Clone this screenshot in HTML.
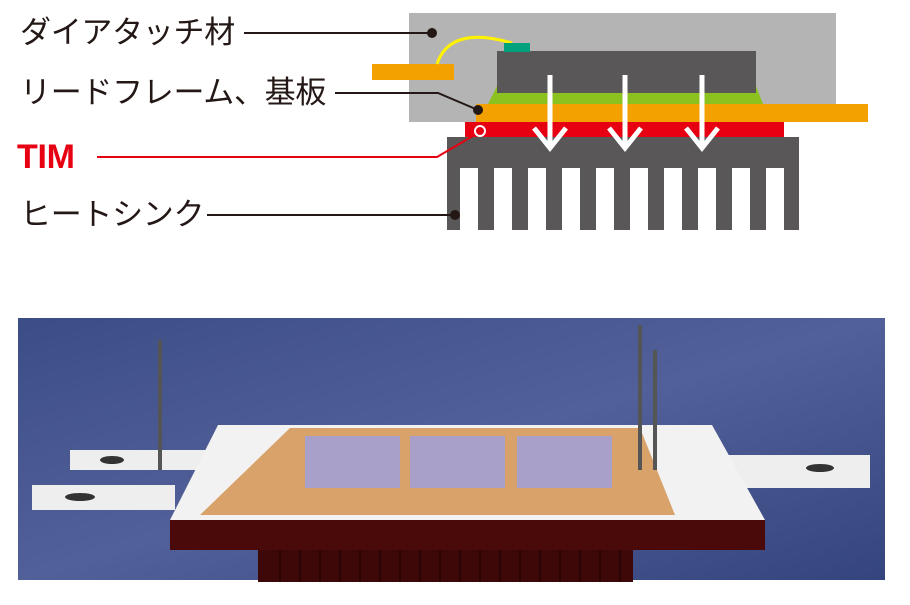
<!DOCTYPE html>
<html><head><meta charset="utf-8"><style>
body{margin:0;background:#fff;width:910px;height:605px;overflow:hidden;position:relative;font-family:"Liberation Sans","Noto Sans CJK JP",sans-serif}
.t{position:absolute;font-size:31px;line-height:32px;color:#231815;white-space:nowrap;letter-spacing:-0.3px}
</style></head><body>
<div class="t" style="left:20px;top:17px">ダイアタッチ材</div>
<div class="t" style="left:20px;top:77px">リードフレーム、基板</div>
<div class="t" style="left:17px;top:140px;color:#e60012;font-weight:bold;font-size:34px;line-height:34px">TIM</div>
<div class="t" style="left:20px;top:199px">ヒートシンク</div>
<svg width="910" height="605" style="position:absolute;left:0;top:0">
<defs>
<linearGradient id="bg" x1="0" y1="0" x2="1" y2="1"><stop offset="0" stop-color="#3c4d85"/><stop offset="0.5" stop-color="#52609a"/><stop offset="1" stop-color="#34447c"/></linearGradient>
</defs>
<rect x="409" y="13" width="427" height="109" fill="#b4b4b4"/>
<rect x="372" y="64" width="82" height="16" fill="#f3a100"/>
<path d="M437 64 Q450 25 512 43" stroke="#fff100" stroke-width="3" fill="none"/>
<polygon points="497,86 756,86 763,104 488,104" fill="#8cc21f"/>
<rect x="497" y="51" width="259" height="42" fill="#595757"/>
<rect x="504" y="43" width="26" height="9" fill="#00a27d"/>
<rect x="476" y="104" width="392" height="18" fill="#f3a100"/>
<rect x="465" y="122" width="319" height="15" fill="#e60012"/>
<rect x="447" y="137" width="352" height="93" fill="#595757"/>
<g fill="#fff">
<rect x="460" y="168" width="18" height="62"/><rect x="494" y="168" width="18" height="62"/><rect x="528" y="168" width="18" height="62"/><rect x="562" y="168" width="18" height="62"/><rect x="596" y="168" width="18" height="62"/><rect x="630" y="168" width="18" height="62"/><rect x="664" y="168" width="18" height="62"/><rect x="698" y="168" width="18" height="62"/><rect x="732" y="168" width="18" height="62"/><rect x="766" y="168" width="18" height="62"/>
</g>
<g stroke="#fff" stroke-width="5" fill="none">
<path d="M550 75V148M534 128L550 148L566 128"/>
<path d="M625 75V148M609 128L625 148L641 128"/>
<path d="M702 75V148M686 128L702 148L718 128"/>
</g>
<g stroke="#231815" stroke-width="2" fill="none">
<path d="M244 33H432"/><path d="M335 93H438L478 110"/><path d="M207 215H455"/>
</g>
<g fill="#231815"><circle cx="432" cy="33" r="5"/><circle cx="478" cy="110" r="5"/><circle cx="455" cy="215" r="5"/></g>
<path d="M97 157H437L478 133" stroke="#e60012" stroke-width="2" fill="none"/>
<circle cx="480" cy="131" r="5" fill="#e60012" stroke="#fff" stroke-width="2"/>
<rect x="18" y="318" width="867" height="262" fill="url(#bg)"/>
<polygon points="32,485 175,485 175,510 32,510" fill="#eee"/>
<polygon points="70,450 210,450 210,470 70,470" fill="#eee"/>
<polygon points="690,455 870,455 870,488 690,488" fill="#eee"/>
<ellipse cx="80" cy="497" rx="15" ry="4" fill="#333"/><ellipse cx="112" cy="460" rx="12" ry="4" fill="#333"/><ellipse cx="820" cy="468" rx="14" ry="4" fill="#333"/>
<polygon points="218,425 712,425 765,520 170,520" fill="#f2f2f2"/>
<polygon points="290,428 640,428 675,515 200,515" fill="#d8a26a"/>
<g fill="#a8a0c8">
<rect x="305" y="436" width="95" height="52"/><rect x="410" y="436" width="95" height="52"/><rect x="517" y="436" width="95" height="52"/>
</g>
<rect x="170" y="520" width="595" height="30" fill="#4a0a0a"/>
<rect x="258" y="550" width="375" height="32" fill="#3e0808"/>
<g stroke="#2a0505" stroke-width="2"><path d="M280 550V582M300 550V582M320 550V582M340 550V582M360 550V582M380 550V582M400 550V582M420 550V582M440 550V582M460 550V582M480 550V582M500 550V582M520 550V582M540 550V582M560 550V582M580 550V582M600 550V582M620 550V582"/></g>
<g stroke="#555" stroke-width="4"><path d="M160 340V470"/><path d="M640 325V470"/><path d="M655 350V470"/></g>
</svg>
</body></html>
